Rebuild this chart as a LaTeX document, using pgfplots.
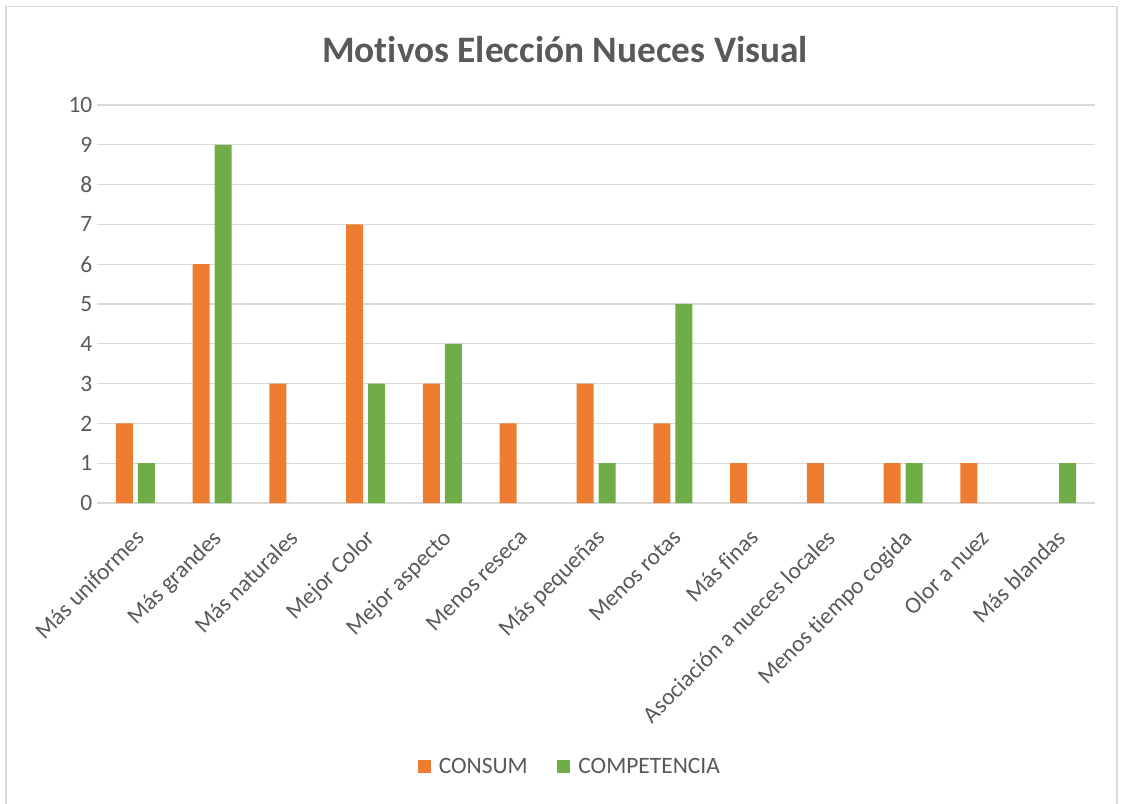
\documentclass[border=0pt]{standalone}
\usepackage{pgfplots}
\pgfplotsset{compat=1.18}
\usepackage{fontspec}
\setmainfont[Ligatures={NoCommon}]{Carlito}
\definecolor{cOrange}{HTML}{ED7D31}
\definecolor{cGreen}{HTML}{70AD47}
\definecolor{txt}{HTML}{595959}
\definecolor{grd}{HTML}{D9D9D9}
\begin{document}
\begin{tikzpicture}
\useasboundingbox (0,0) rectangle (842.25pt,602.25pt);
\draw[grd, line width=1.2pt] (4.5pt,-5pt) -- (4.5pt,597.5pt) -- (837.75pt,597.5pt) -- (837.75pt,-5pt);
\node[txt, font=\fontsize{28}{32}\selectfont\bfseries] at (423.75pt,564.75pt) {Motivos Elección Nueces Visual};
\begin{axis}[
  at={(72.75pt,225pt)}, anchor=south west,
  scale only axis, width=748.5pt, height=298.5pt,
  ybar=3.75pt, bar width=12.75pt,
  xmin=-0.5, xmax=12.5, ymin=0, ymax=10,
  ytick={0,1,...,10},
  xtick={0,1,...,12},
  xticklabels={Más uniformes, Más grandes, Más naturales, Mejor Color, Mejor aspecto, Menos reseca, Más pequeñas, Menos rotas, Más finas, Asociación a nueces locales, Menos tiempo cogida, Olor a nuez, Más blandas},
  xticklabel style={rotate=45, anchor=north east, xshift=-10.5pt, yshift=-9pt},
  ticklabel style={txt, font=\fontsize{17.6}{20}\selectfont},
  /pgf/number format/assume math mode=true,
  major tick length=0pt,
  ymajorgrids, grid style={grd, line width=1pt},
  axis line style={draw=none},
  legend style={at={(0.474,-0.663)}, anchor=center, draw=none, legend columns=2,
    font=\fontsize{17.6}{20}\selectfont, text=txt,
    /tikz/every even column/.append style={column sep=20pt}},
  legend image code/.code={\fill[#1] (0pt,-4.9pt) rectangle (9.75pt,4.9pt); \path (14pt,0pt);},
]
\addplot[fill=cOrange, draw=none] coordinates {(0,2) (1,6) (2,3) (3,7) (4,3) (5,2) (6,3) (7,2) (8,1) (9,1) (10,1) (11,1)};
\addplot[fill=cGreen, draw=none] coordinates {(0,1) (1,9) (3,3) (4,4) (6,1) (7,5) (10,1) (12,1)};
\legend{CONSUM, COMPETENCIA}
\end{axis}
\end{tikzpicture}
\end{document}
